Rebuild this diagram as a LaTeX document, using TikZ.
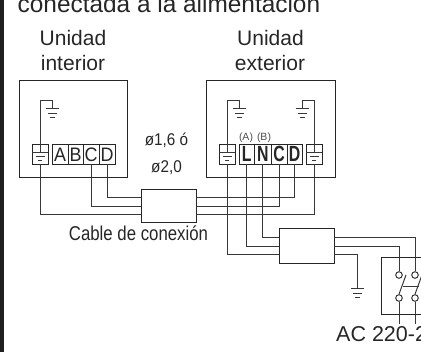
\documentclass[tikz,border=0pt]{standalone}
\usepackage{fontspec}
\setmainfont{Liberation Sans}
\usetikzlibrary{calc}
\tikzset{
	wire/.style={line width=1pt, black!78},
	unitbox/.style={draw=black!85, line width=1pt},
	cablebox/.style={draw=black!85, line width=1pt, fill=white, inner sep=0pt},
	term/.style={draw=black!85, line width=0.9pt, fill=white, inner sep=0pt, minimum height=20pt, text height=17.5pt, text depth=1.5pt, text=black!85},
	contact/.style={circle, draw=black!78, line width=1pt, fill=white, inner sep=0pt, minimum size=6.6pt},
	lbl/.style={inner sep=0pt, anchor=base, text=black!85, font=\fontsize{21}{21}\selectfont}
}
\newcommand{\earthbars}[1]{
	\draw[wire] ($(#1)+(-6.5,0)$) -- ($(#1)+(6.5,0)$);
	\draw[wire] ($(#1)+(-4.5,4.5)$) -- ($(#1)+(4.5,4.5)$);
	\draw[wire] ($(#1)+(-2.5,8.5)$) -- ($(#1)+(2.5,8.5)$);
}
\newcommand{\narrowtxt}[2]{\scalebox{#1}[1]{#2}}
\begin{document}
\begin{tikzpicture}[x=1pt,y=-1pt]
	\useasboundingbox (0,0) rectangle (421,352);
	\fill[black!88] (0,0) rectangle (4,352);
	\node[lbl, anchor=base west, font=\fontsize{24.4}{24.4}\selectfont] (title) at (17.5,13) {conectada a la alimentación};

	% units
	\draw[unitbox] (19,81) rectangle (127.5,178);
	\draw[unitbox] (206,81) rectangle (335,178);
	\node[lbl] (indoor) at (73,45.7) {Unidad};
	\node[lbl] (indoorb) at (73,71) {interior};
	\node[lbl] (outdoor) at (270.5,45.7) {Unidad};
	\node[lbl] (outdoorb) at (270,71) {exterior};
	\node[lbl, font=\fontsize{17}{17}\selectfont] (gauge) at (166.5,146) {\narrowtxt{0.9}{ø1,6 ó}};
	\node[lbl, font=\fontsize{17}{17}\selectfont] (gaugeb) at (166.5,173) {\narrowtxt{0.9}{ø2,0}};
	\node[lbl, font=\fontsize{10.5}{10.5}\selectfont, text=black!70] (tagA) at (246,140.5) {(A)};
	\node[lbl, font=\fontsize{10.5}{10.5}\selectfont, text=black!70] (tagB) at (264,140.5) {(B)};
	\node[lbl, font=\fontsize{20}{20}\selectfont] (cable) at (138.5,241) {\narrowtxt{0.84}{Cable de conexión}};
	\node[lbl, anchor=base west, font=\fontsize{21.5}{21.5}\selectfont] (mains) at (336,342) {AC 220-2};

	% terminals
	\foreach \n/\x/\w/\t in {iA/60/16/A,iB/75.5/15/B,iC/91/16/C,iD/107/16/D}
		\node[term, minimum width=\w pt, font=\fontsize{19.5}{19.5}\selectfont] (\n) at (\x,154) {\narrowtxt{0.92}{\t}};
	\foreach \n/\x/\w/\t in {oL/246.75/15.5/L,oN/262.75/16.5/N,oC/279/16/C,oD/294.5/15/D}
		\node[term, minimum width=\w pt, font=\fontsize{22}{22}\bfseries\selectfont] (\n) at (\x,154) {\narrowtxt{0.72}{\t}};
	\foreach \n/\x in {iE/40,oE/227,oF/314} {
		\node[term, minimum width=16pt] (\n) at (\x,154) {};
		\draw[wire] (\n.north) -- ++(0,9);
		\draw[wire] ($(\n.north)+(-8,9)$) -- ++(16,0);
		\draw[wire] ($(\n.north)+(-4.5,13)$) -- ++(9,0);
		\draw[wire] ($(\n.north)+(-2,16.5)$) -- ++(4,0);
	}

	% cable boxes
	\node[cablebox, minimum width=55pt, minimum height=33pt] (link) at (168.5,206.5) {};
	\node[cablebox, minimum width=55pt, minimum height=35pt] (feed) at (306.5,246.5) {};
	\foreach \n/\y in {a/198,b/207,c/215} {
		\coordinate (linkw\n) at (141,\y);
		\coordinate (linke\n) at (196,\y);
	}
	\foreach \n/\y in {a/238,b/247,c/255} {
		\coordinate (feedw\n) at (279,\y);
		\coordinate (feede\n) at (334,\y);
	}

	% wires
	\draw[wire] (iD.south) |- (linkwa);
	\draw[wire] (iC.south) |- (linkwb);
	\draw[wire] (iE.south) |- (linkwc);
	\draw[wire] (linkea) -| (oD.south);
	\draw[wire] (linkeb) -| (oC.south);
	\draw[wire] (linkec) -| (oF.south);
	\draw[wire] (oN.south) |- (feedwa);
	\draw[wire] (oL.south) |- (feedwb);
	\draw[wire] (oE.south) |- (feedwc);

	% earth marks
	\coordinate (iEg) at (52,109);
	\coordinate (oEg) at (239.5,109);
	\coordinate (oFg) at (302,109);
	\coordinate (feedg) at (357.5,289);
	\draw[wire] (iE.north) |- (52,101) -- (iEg);
	\earthbars{iEg}
	\draw[wire] (oE.north) |- (239.5,101) -- (oEg);
	\earthbars{oEg}
	\draw[wire] (oF.north) |- (302,101) -- (oFg);
	\earthbars{oFg}
	\draw[wire] (feedec) -| (feedg);
	\earthbars{feedg}

	% switch
	\draw[unitbox] (430,258) -| (381,315) -- (430,315);
	\node[contact] (s1) at (399,275) {};
	\node[contact] (s2) at (415,275) {};
	\node[contact] (s3) at (399,298) {};
	\node[contact] (s4) at (415,298) {};
	\coordinate (s3top) at (406,275);
	\coordinate (s4top) at (422,275);
	\coordinate (s3end) at (399,324);
	\coordinate (s4end) at (415,324);
	\draw[wire] (feedeb) -| (s1.north);
	\draw[wire] (feedea) -| (s2.north);
	\draw[wire] (s3.south) -- (s3end);
	\draw[wire] (s4.south) -- (s4end);
	\draw[wire] (s3.north) -- (s3top);
	\draw[wire] (s4.north) -- (s4top);
	\draw[wire] (402.5,287) -- (418.5,287);
\end{tikzpicture}
\end{document}
